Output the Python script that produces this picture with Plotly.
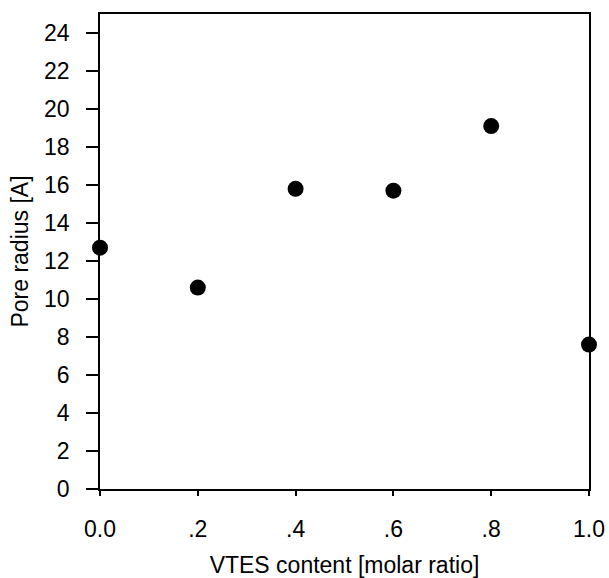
import plotly.graph_objects as go

vtes_content = [0.0, 0.2, 0.4, 0.6, 0.8, 1.0]
pore_radius = [12.7, 10.6, 15.8, 15.7, 19.1, 7.6]

x_tickvals = [0.0, 0.2, 0.4, 0.6, 0.8, 1.0]
x_ticktext = ["0.0", ".2", ".4", ".6", ".8", "1.0"]
y_tickvals = list(range(0, 25, 2))

FONT = "Liberation Sans, Arial, sans-serif"

fig = go.Figure()
fig.add_trace(go.Scatter(
    x=vtes_content, y=pore_radius, mode="markers",
    marker=dict(size=16, color="black"),
    cliponaxis=False, showlegend=False,
))

line_style = dict(color="black", width=1.5)
# frame line extensions below the x axis (SigmaPlot style)
for xv in (0.0, 1.0):
    fig.add_shape(type="line", xref="x", yref="y", x0=xv, x1=xv,
                  ysizemode="pixel", yanchor=0, y0=0, y1=-13,
                  line=line_style)

fig.update_layout(
    width=609, height=578,
    margin=dict(l=100, r=20, t=14, b=89, autoexpand=False),
    paper_bgcolor="white", plot_bgcolor="white",
    font=dict(family=FONT, color="black", size=23),
    xaxis=dict(
        range=[0, 1], tickvals=x_tickvals, ticktext=x_ticktext,
        automargin=False,
        showgrid=False, zeroline=False, showline=True, linecolor="black",
        linewidth=1.5, mirror=True, ticks="outside", ticklen=5, tickwidth=1.5,
        tickcolor="black", ticklabelstandoff=14,
        tickfont=dict(size=23),
        title=dict(text="VTES content [molar ratio]", font=dict(size=23), standoff=24),
    ),
    yaxis=dict(
        range=[0, 25], tickvals=y_tickvals,
        automargin=False,
        showgrid=False, zeroline=False, showline=True, linecolor="black",
        linewidth=1.5, mirror=True, ticks="outside", ticklen=12, tickwidth=1.5,
        tickcolor="black", ticklabelstandoff=12,
        tickfont=dict(size=23),
        title=dict(text="Pore radius [A]", font=dict(size=23), standoff=9),
    ),
)

fig.write_html("out.html")
